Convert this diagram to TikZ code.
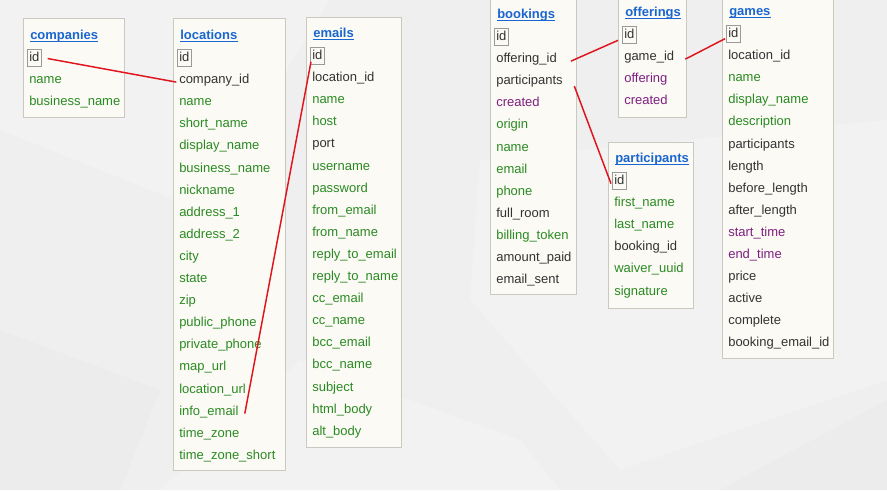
\documentclass[tikz,border=0pt]{standalone}
\usepackage{fontspec}
\setmainfont{Liberation Sans}
\definecolor{bgA}{HTML}{EFEFEF}
\definecolor{bgB}{HTML}{F2F2F2}
\definecolor{bgC}{HTML}{ECECEC}
\definecolor{boxfill}{HTML}{FBFAF5}
\definecolor{boxline}{HTML}{C9C9C2}
\definecolor{idline}{HTML}{9A9A9A}
\definecolor{titleblue}{HTML}{1A66D0}
\definecolor{dk}{HTML}{333333}
\definecolor{gr}{HTML}{2A8A22}
\definecolor{pu}{HTML}{7E1F80}
\definecolor{relred}{HTML}{E0141C}
\catcode`\_=12
\tikzset{
  tbox/.style={draw=boxline, fill=boxfill, line width=0.6pt, inner sep=0pt, anchor=north west},
  ttitle/.style={inner sep=0pt, text=titleblue, font=\fontsize{9.75}{12}\selectfont\bfseries, anchor=base west},
  tline/.style={draw=titleblue, line width=0.75pt},
  field/.style={inner xsep=1.5pt, inner ysep=1.2pt, text height=7.5pt, text depth=2.25pt,
    font=\fontsize{9.75}{12}\selectfont, anchor=base west},
  idframe/.style={draw=idline, line width=0.5pt},
  rel/.style={draw=relred, line width=1.1pt}
}
\newcommand\dbtable[7]{%
  \node[tbox, minimum width=#4*0.75pt, minimum height=#5*0.75pt] (#1-box) at (#2,#3) {};
  \node[ttitle] (#1-title) at (#2+7,#6-18) {#1};
  \draw[tline] ([yshift=-1.6pt]#1-title.base west) -- ([yshift=-1.6pt]#1-title.base east);
  \foreach \f/\c [count=\i from 0] in {#7} {
    \node[field, text=\c] (#1-\f) at (#2+4,#6+22.1*\i+4.5) {\f};
  }
  \draw[idframe] (#1-id.south west) rectangle (#1-id.north east);
}
\begin{document}
\begin{tikzpicture}[x=0.75pt,y=-0.75pt]
\useasboundingbox (0,0) rectangle (887,490);
% background
\fill[bgA] (0,0) rectangle (887,490);
\fill[bgB] (0,0) -- (330,0) -- (200,210) -- (0,130) -- cycle;
\fill[bgB] (480,160) -- (887,120) -- (887,380) -- (620,470) -- (470,300) -- cycle;
\fill[bgC] (0,330) -- (160,390) -- (120,490) -- (0,490) -- cycle;
\fill[bgB] (160,490) -- (300,360) -- (520,440) -- (560,490) -- cycle;
\fill[bgC] (720,490) -- (887,400) -- (887,490) -- cycle;
% tables
\dbtable{companies}{23}{18}{101}{99}{57}{id/dk, name/gr, business_name/gr}
\dbtable{locations}{173}{18}{112}{452}{57}{id/dk, company_id/dk, name/gr, short_name/gr,
  display_name/gr, business_name/gr, nickname/gr, address_1/gr, address_2/gr, city/gr,
  state/gr, zip/gr, public_phone/gr, private_phone/gr, map_url/gr, location_url/gr,
  info_email/gr, time_zone/gr, time_zone_short/gr}
\dbtable{emails}{306}{17}{95}{430}{55}{id/dk, location_id/dk, name/gr, host/gr, port/dk,
  username/gr, password/gr, from_email/gr, from_name/gr, reply_to_email/gr, reply_to_name/gr,
  cc_email/gr, cc_name/gr, bcc_email/gr, bcc_name/gr, subject/gr, html_body/gr, alt_body/gr}
\dbtable{bookings}{490}{-2}{86}{296}{36}{id/dk, offering_id/dk, participants/dk, created/pu,
  origin/gr, name/gr, email/gr, phone/gr, full_room/dk, billing_token/gr, amount_paid/dk,
  email_sent/dk}
\dbtable{offerings}{618}{-2}{68}{119}{34}{id/dk, game_id/dk, offering/pu, created/pu}
\dbtable{participants}{608}{142}{85}{166}{180}{id/dk, first_name/gr, last_name/gr,
  booking_id/dk, waiver_uuid/gr, signature/gr}
\dbtable{games}{722}{-2}{111}{360}{33}{id/dk, location_id/dk, name/gr, display_name/gr,
  description/gr, participants/dk, length/dk, before_length/dk, after_length/dk,
  start_time/pu, end_time/pu, price/dk, active/dk, complete/dk, booking_email_id/dk}
% relations
\draw[rel] ([xshift=4.5pt,yshift=-0.4pt]companies-id.east) -- ([xshift=-0.5pt,yshift=-1.5pt]locations-company_id.west);
\draw[rel] ([xshift=0.75pt,yshift=2pt]emails-id.south west) -- ([xshift=3pt,yshift=-1.5pt]locations-info_email.east);
\draw[rel] ([xshift=9pt,yshift=-1.5pt]bookings-offering_id.east) -- ([xshift=-3pt,yshift=-4pt]offerings-id.west);
\draw[rel] ([xshift=6.75pt,yshift=-1.5pt]offerings-game_id.east) -- ([xshift=-0.75pt,yshift=-3.5pt]games-id.west);
\draw[rel] ([xshift=7pt,yshift=-3.75pt]bookings-participants.east) -- ([xshift=-0.75pt,yshift=-2pt]participants-id.west);
\end{tikzpicture}
\end{document}
